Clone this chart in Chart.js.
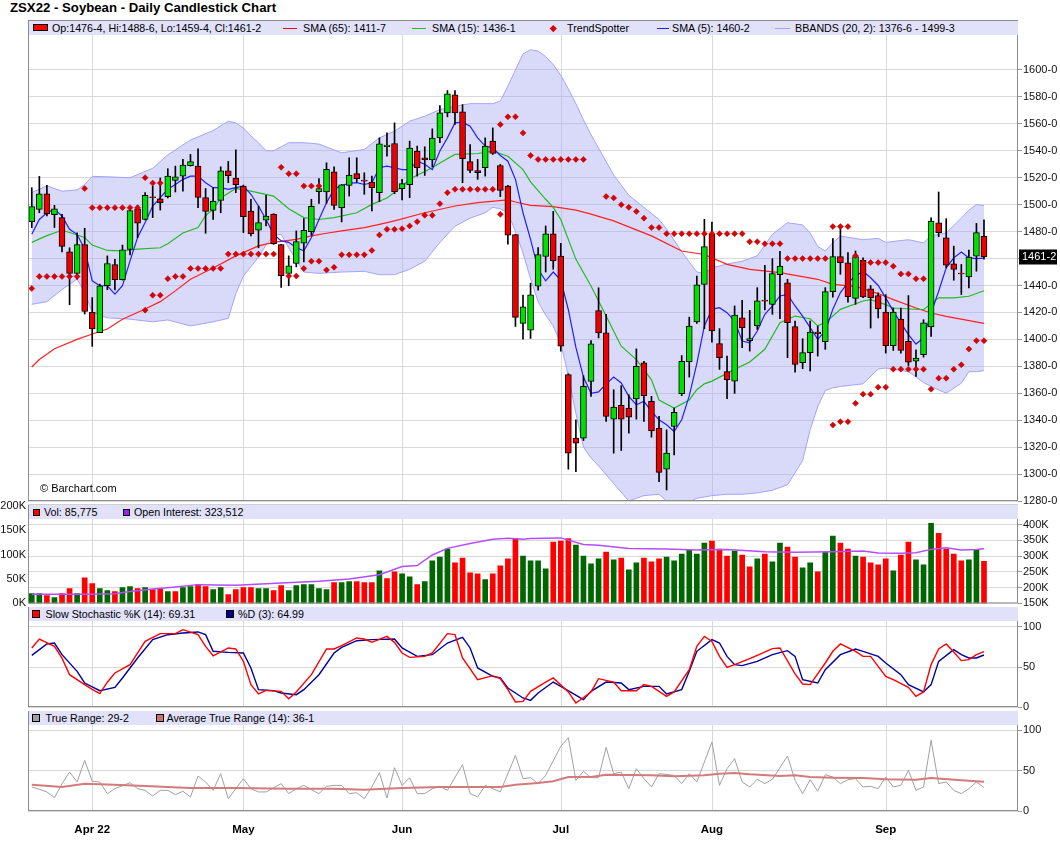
<!DOCTYPE html>
<html>
<head>
<meta charset="utf-8">
<title>ZSX22 - Soybean - Daily Candlestick Chart</title>
<script src="https://cdn.jsdelivr.net/npm/chart.js@4.4.1/dist/chart.umd.min.js"></script>
<style>
  body { margin: 0; background: #fff; }
  #wrap { position: relative; width: 1060px; height: 851px; overflow: hidden; font-family: "Liberation Sans", Arial, sans-serif; color: #000; }
  #wrap canvas { position: absolute; left: 0; }
  .title { position: absolute; left: 10px; top: 0; font-size: 13.2px; font-weight: bold; line-height: 16px; }
  .leg { position: absolute; left: 29px; width: 989px; height: 14px; background: #e1e1f9; font-size: 10.7px; line-height: 14px; white-space: nowrap; z-index: 2; }
  .leg span { position: absolute; top: 0; }
  .leg i { position: absolute; display: block; }
  .wm { position: absolute; left: 40px; top: 481px; font-size: 11px; line-height: 14px; z-index: 2; }
</style>
</head>
<body>
<div id="wrap">
  <div class="title">ZSX22 - Soybean - Daily Candlestick Chart</div>

  <div class="leg" style="top:21px">
    <i style="left:4px;top:3px;width:13px;height:5px;background:#f00;border:1px solid #000"></i>
    <span style="left:23px">Op:1476-4, Hi:1488-6, Lo:1459-4, Cl:1461-2</span>
    <i style="left:254px;top:7px;width:14px;height:1px;background:#f00"></i>
    <span style="left:274px">SMA (65): 1411-7</span>
    <i style="left:383px;top:7px;width:14px;height:1px;background:#2b2"></i>
    <span style="left:403px">SMA (15): 1436-1</span>
    <i style="left:522px;top:4.5px;width:4.5px;height:4.5px;background:#d00;transform:rotate(45deg)"></i>
    <span style="left:538px">TrendSpotter</span>
    <i style="left:628px;top:7px;width:12px;height:1px;background:#22f"></i>
    <span style="left:643px">SMA (5): 1460-2</span>
    <i style="left:746px;top:7px;width:15px;height:1px;background:#a3a3ff"></i>
    <span style="left:766px">BBANDS (20, 2): 1376-6 - 1499-3</span>
  </div>

  <div class="leg" style="top:505px">
    <i style="left:4px;top:3.5px;width:5px;height:5px;background:#f00;border:1px solid #000"></i>
    <span style="left:15px">Vol: 85,775</span>
    <i style="left:94px;top:3.5px;width:5px;height:5px;background:#a020f0;border:1px solid #000"></i>
    <span style="left:105px">Open Interest: 323,512</span>
  </div>

  <div class="leg" style="top:607px">
    <i style="left:3px;top:3px;width:6px;height:6px;background:#f00;border:1px solid #000"></i>
    <span style="left:16.5px">Slow Stochastic %K (14): 69.31</span>
    <i style="left:196.5px;top:3px;width:6px;height:6px;background:#00008b;border:1px solid #000"></i>
    <span style="left:209px">%D (3): 64.99</span>
  </div>

  <div class="leg" style="top:711px">
    <i style="left:3px;top:3px;width:6px;height:6px;background:#a0a0a0;border:1px solid #000"></i>
    <span style="left:16.5px">True Range: 29-2</span>
    <i style="left:127px;top:3px;width:6px;height:6px;background:#cc7070;border:1px solid #000"></i>
    <span style="left:137.5px">Average True Range (14): 36-1</span>
  </div>

  <div class="wm">&copy; Barchart.com</div>

  <canvas id="cPrice"></canvas>
  <canvas id="cVol"></canvas>
  <canvas id="cStoch"></canvas>
  <canvas id="cTr"></canvas>
</div>

<script>
// trading days shown on the axis (last four are empty future slots)
const mar = [22, 23, 24, 25, 28, 29, 30, 31];
const apr = [1, 4, 5, 6, 7, 8, 11, 12, 13, 14, 18, 19, 20, 21, 22, 25, 26, 27, 28, 29];
const may = [2, 3, 4, 5, 6, 9, 10, 11, 12, 13, 16, 17, 18, 19, 20, 23, 24, 25, 26, 27, 31];
const jun = [1, 2, 3, 6, 7, 8, 9, 10, 13, 14, 15, 16, 17, 21, 22, 23, 24, 27, 28, 29, 30];
const jul = [1, 5, 6, 7, 8, 11, 12, 13, 14, 15, 18, 19, 20, 21, 22, 25, 26, 27, 28, 29];
const aug = [1, 2, 3, 4, 5, 8, 9, 10, 11, 12, 15, 16, 17, 18, 19, 22, 23, 24, 25, 26, 29, 30, 31];
const sep = [1, 2, 6, 7, 8, 9, 12, 13, 14, 15, 16, 19, 20, 21, 22, 23, 26, 27];
const monthNames = ['Apr 22', 'May', 'Jun', 'Jul', 'Aug', 'Sep'];

const opens = [
  1487.4,1496.5,1508,1492.6,1490.4,1465,1449,1470.4,1420,1405,
  1439.8,1455.6,1444.4,1466.7,1497,1489,1505.9,1504.4,1506,1518,
  1521.2,1529,1528.6,1505.2,1495.8,1503.2,1525.2,1519.8,1513.8,1495.3,
  1481,1488.4,1493,1470.4,1448.9,1456.3,1471.4,1480,1509.6,1509.4,
  1524.4,1497.8,1514.3,1523,1518.2,1516.8,1508.9,1543,1545.4,1511.9,
  1514.8,1539.8,1534.8,1533.3,1549.6,1568.1,1581.5,1568.9,1531.9,1525.4,
  1527.4,1547.2,1529.1,1513.8,1477.8,1411.9,1406.9,1439.5,1461.5,1478.3,
  1461.9,1373.8,1326.7,1326.7,1368.8,1421.4,1404.8,1340.8,1351,1349,
  1355.7,1382.5,1354,1334.1,1303.6,1335.3,1359.6,1383.2,1413,1440.8,
  1478,1396.8,1376,1369,1416,1399,1409.9,1429.1,1426,1448,
  1442,1409.4,1382.7,1390.1,1405.4,1398.3,1435.4,1461.4,1456.9,1430.4,
  1458.6,1437.5,1432.5,1420.3,1395.3,1415.1,1398.5,1383.9,1388.6,1409.2,
  1486.6,1475.4,1456.1,1449.3,1446.4,1461.8,1476.5
];
const highs = [
  1512.6,1521,1514.3,1499.5,1492.8,1468,1479,1482.5,1431,1441,
  1462,1459.5,1470,1496,1499.5,1509,1513.8,1519.8,1526.7,1528.6,
  1533.6,1537.3,1541.5,1512,1512.6,1528.1,1532.1,1540.7,1514.5,1504,
  1499,1506.9,1493.3,1470.6,1462,1480.5,1489.6,1504,1519.3,1531.1,
  1528,1515,1534.8,1534.8,1523.7,1521.2,1549.6,1553.3,1560.7,1518.8,
  1547.2,1543.5,1543,1556.3,1573.6,1584.7,1584.7,1574.3,1544.7,1533.6,
  1549.6,1557,1529.9,1514.3,1477.8,1432.8,1441.7,1468.1,1484.2,1495,
  1471.3,1374.5,1340.3,1373,1399.1,1438.3,1418.5,1362.6,1365.6,1358.9,
  1392.9,1383.7,1357.7,1342.8,1332.9,1349,1388,1416.5,1447,1489.1,
  1487,1408,1387.6,1424.8,1429,1421.5,1438.4,1455,1459.9,1465.3,
  1444.6,1413.6,1400.5,1413.6,1409.9,1438.4,1474.8,1484.7,1464.4,1465.6,
  1460.5,1440,1434.5,1433.2,1423.3,1423.3,1432.5,1392.3,1414.6,1490.3,
  1509.4,1489.6,1469.2,1455.6,1466.3,1486.1,1488.75
];
const lows = [
  1483,1494,1491.6,1483,1465,1425.7,1444.7,1418.8,1394.8,1405,
  1436.8,1436.8,1444,1462.7,1475.6,1488.6,1490.4,1496,1505,1509.4,
  1510,1528.6,1497.8,1478.8,1489,1494,1516.3,1508.9,1479.3,1476.8,
  1468,1484.2,1470.5,1438.5,1439.8,1453.8,1457.5,1477.3,1501,1501,
  1496.5,1487.2,1506.4,1516.8,1507.7,1495.3,1502.2,1536,1508.1,1503.5,
  1505.2,1521.2,1521.7,1528.1,1546,1565.2,1559.5,1516.3,1523.7,1518.8,
  1521.2,1537.3,1506,1470.6,1409.6,1400.2,1400.7,1436.5,1450,1452,
  1391.2,1303.6,1301.8,1324.9,1357.7,1401.1,1339,1315.5,1317.5,1330.4,
  1340.8,1339,1327.4,1294.4,1288.2,1314.2,1358.2,1372,1411.8,1408,
  1398,1377.7,1356,1359.9,1393.8,1391.3,1407.4,1421.8,1418.6,1415.3,
  1386.4,1375.7,1378.2,1376.5,1387.6,1392.6,1431.4,1448.3,1427.7,1426,
  1431,1408.4,1415.9,1389.8,1391.8,1389.8,1380.6,1372.5,1386.8,1402.2,
  1476.2,1453.1,1443.9,1433.3,1438.2,1450.6,1459.5
];
const closes = [
  1498.5,1508,1493.3,1497,1469,1449,1470.4,1420.7,1407.7,1439.8,
  1456.3,1444.4,1466.4,1495.6,1486.2,1507,1505.2,1501.5,1521.2,1520.7,
  1529.4,1531.9,1505.4,1495,1502.7,1525.2,1521.5,1514.8,1491.1,1478.5,
  1486.7,1491.6,1471,1447.2,1454.6,1472.6,1481,1498.8,1511.9,1526.2,
  1499.5,1514.8,1522,1519.3,1517.5,1512.6,1545.2,1544.2,1509.6,1515.6,
  1542,1527.4,1533.3,1549.4,1568.1,1582.2,1568.1,1534.1,1525.4,1523.7,
  1543.5,1538,1510.6,1477.3,1416.3,1424.2,1433,1463,1478.3,1458.3,
  1394.9,1315.5,1323,1365.1,1396.6,1404.8,1342.8,1349.7,1340.8,1342.3,
  1380,1358.2,1332.1,1301.3,1315.5,1345.8,1383.7,1409.8,1440.5,1468.8,
  1406.2,1386.4,1370,1418,1408.7,1400.5,1428.7,1428.4,1448.8,1454.5,
  1412.4,1381.4,1390.1,1405.4,1404.2,1435.4,1461.4,1456.9,1431.7,1461.4,
  1431.5,1431,1422.6,1395.3,1420.3,1391.8,1383.1,1386.1,1412.2,1487.8,
  1479.2,1455.1,1451.9,1448.6,1461,1479.2,1461.25
];

// SMA (5), one value per candle
const sma5 = [
  1478,1489,1494,1496.5,1491.6,1481.7,1478,1467,1443.5,1439.8,
  1439.8,1433.6,1439.8,1458.3,1475.6,1486.7,1499,1505.2,1511.4,1515,
  1518.8,1521.2,1521.2,1516.3,1512.6,1512.6,1511.4,1512.6,1513.8,1507.7,
  1499,1489,1478,1473.1,1472,1468,1465.7,1475.6,1489,1501.5,
  1511.4,1514.3,1515.8,1516.3,1515,1516.3,1527.4,1528.6,1527.4,1526,
  1526,1532.3,1530,1526,1539.8,1549.6,1560.7,1561.2,1558.3,1549.6,
  1543.5,1542.2,1536.5,1532.3,1518.8,1494,1474.3,1452,1443.5,1450,
  1444,1422,1394,1372,1360,1361,1367,1372,1367.6,1357.7,
  1351.5,1354,1346.5,1340.3,1336.6,1331.6,1340.3,1358,1382,1410,
  1422.3,1423.5,1419.8,1413.6,1398.8,1397.5,1406.2,1418.6,1424.8,1432.2,
  1433.4,1424.8,1417.3,1408.7,1400,1406.2,1422.3,1434.7,1442.1,1447,
  1450.6,1445.7,1440,1430.8,1420.8,1412.2,1403.5,1396.5,1401,1419.6,
  1435.7,1453.1,1460.5,1464.8,1460.5,1460,1460.25
];

// smoother lines, read at [candle index, value]
const sma65 = [[0,1379.5],[1,1385],[3,1393],[6,1400],[8,1404],[10,1407.7],[12,1415],[15,1422.5],[17,1428],[19,1436],
  [21,1444.7],[24,1453],[27,1462],[30,1469.4],[32,1472],[35,1474.3],[37,1476.8],[39,1478.8],[41,1480.5],[44,1483],
  [46,1485.4],[48,1488],[52,1494],[56,1499],[59,1501.5],[63,1503.5],[64,1502],[66,1499.5],[69,1498.5],[72,1496],
  [74,1493],[77,1488],[82,1476.8],[86,1465.6],[89,1463],[92,1455.7],[95,1452],[99,1449.5],[104,1444.6],[106,1440.8],
  [109,1439.3],[112,1434],[114,1429.5],[117,1423.3],[119,1419.6],[121,1417.1],[126,1411.9]];
const sma15 = [[0,1472],[2,1477],[4,1481],[5,1479.3],[7,1475.6],[8,1470],[10,1466],[12,1465.7],[14,1467],[17,1468],
  [18,1471],[20,1479],[22,1483],[23,1492],[24,1496.5],[25,1505],[27,1512],[29,1510],[32,1506.4],[34,1497],
  [36,1490.4],[38,1489],[40,1490.4],[43,1494],[45,1500.2],[47,1505],[49,1513.5],[50,1519],[53,1527.4],[54,1531],
  [56,1537.3],[59,1538],[61,1539.8],[63,1536],[65,1526],[66,1517],[68,1504],[69,1498],[70,1489],[72,1459.4],
  [74,1439.6],[76,1417.3],[78,1394.9],[80,1385],[82,1370],[83,1355],[85,1349],[87,1355],[88,1362.6],[89,1367],
  [90,1369],[93,1377.7],[95,1383.2],[97,1392.6],[99,1412.4],[101,1417.3],[103,1415.3],[104,1410],[105,1412.4],[107,1422.3],
  [110,1428.5],[111,1429.5],[113,1425.8],[114,1423.3],[118,1422],[120,1430.8],[122,1430.8],[124,1432],[126,1436.1]];

// Bollinger bands (20, 2)
const bbIdx = [0,2,4,6,7,8,10,13,16,18,21,24,26,27,28,29,30,31,32,33,34,36,38,41,44,46,48,50,52,54,
  56,58,60,61,62,63,64,65,66,67,68,69,70,71,72,73,74,75,77,79,81,83,84,86,88,89,90,92,94,96,
  98,100,102,103,104,105,106,107,110,112,113,116,118,119,121,123,124,125,126];
const bbUpper = [1509,1514,1510,1511,1515,1521,1520.7,1520,1527,1537,1548,1555,1562,1560.7,1557,1551,1546,1540,1540,1543,
  1546,1546,1545,1538.5,1541,1549.6,1554.6,1562,1565.7,1570.6,1573,1575,1575,1575,1577,1588,1600,1612,1615,1614,
  1610,1604,1596,1586,1575,1563,1552,1542,1522,1507,1498,1489,1482,1465,1450,1449,1453,1456,1458,1462,
  1478,1486.6,1485,1479,1469,1465.6,1471.8,1476.7,1474,1475,1472,1474,1471.7,1477,1479,1490,1496,1500,1499.4];
const bbLower = [1426,1428,1437,1444.7,1435,1420,1416,1415,1413,1414.4,1410,1413,1415.6,1434,1447,1454,1461,1470,1477,1478,
  1468,1450,1449,1450,1450.5,1448,1448,1452,1458,1472,1484,1490,1494,1498,1497,1494,1480,1464,1445,1428,
  1418,1410,1397,1373,1345,1320,1312,1306,1293,1280,1284,1285,1280,1277,1282,1283,1284,1285,1285,1286,
  1288,1292,1310,1333,1350,1362,1364,1365,1367,1378,1378.7,1376,1368,1365,1360,1367.5,1376,1376,1376.75];

// TrendSpotter dots, runs of [first index, last index, value]
const trendRuns = [[0,0,1437.8],[1,6,1446.7],[7,7,1512],[8,14,1497.8],[15,15,1520],[15,15,1421.7],[16,17,1516],[16,17,1432.8],
  [18,18,1445],[19,20,1446.7],[21,25,1452.7],[26,32,1463.3],[33,33,1527.7],[34,35,1523],[34,35,1447],[36,38,1513.8],
  [36,36,1452.7],[37,38,1458],[39,39,1451.5],[40,40,1453.5],[41,44,1462.8],[45,45,1466],[46,46,1477.5],[47,48,1481.7],
  [49,49,1482.2],[50,50,1484.2],[51,51,1487.4],[52,53,1492.1],[54,54,1500.7],[55,55,1508.9],[56,61,1511.4],[62,62,1559.5],
  [62,62,1492.8],[63,64,1565.2],[65,65,1553.3],[66,66,1536.5],[67,73,1533.6],[76,76,1506],[77,77,1505],[78,78,1500],
  [79,79,1498],[80,80,1495],[81,81,1490],[82,83,1483],[84,94,1478.5],[95,96,1472.5],[97,99,1471],[100,105,1460],
  [106,108,1483.7],[106,106,1336.4],[107,108,1338.9],[109,109,1462],[109,109,1352.5],[110,113,1457],[110,111,1359.3],
  [112,113,1364.5],[114,114,1454.3],[114,118,1377.9],[115,116,1448.6],[117,118,1445],[119,119,1363],[120,121,1371.2],
  [122,122,1377.9],[123,123,1381.1],[124,124,1392.8],[125,126,1399]];

// volume and open interest, thousands
const volume = [
  20.2,20.2,16.2,12.1,20.2,30.3,20.2,52.5,40.4,30.3,
  26.3,24.2,32.3,34.3,30.3,32.3,28.3,29,24.2,24.2,
  32.3,34.3,38.4,34.3,28.3,32.3,18.2,28.3,32.3,32.3,
  30.3,30.3,26.3,36.4,26.3,36.4,38.4,38.4,30.3,28.3,
  42.4,42.4,44.4,44.4,42.4,42.4,66.7,50.5,64.6,60.6,
  54.5,38.4,44.4,86.9,94.9,111,82.8,92.9,62.6,60.6,
  48.5,60.6,76.8,90.9,132.7,97,86.9,86.9,70.7,125.3,
  127.3,132.7,119.2,97,80.8,90.9,105,88.9,92.9,68.7,
  82.8,92.9,84.8,90.9,94.9,86.9,101,109.1,101,123.2,
  127.3,111.1,97,107.1,99,74.7,90.9,101,84.8,123.2,
  115.2,94.9,72.7,82.8,64.6,105,137.4,123.2,111.1,97,
  94.9,82.8,78.8,90.9,66.7,99,125.3,88.9,78.8,163.6,
  143.4,111.1,101,86.9,88.9,109.1,85.775
];
const openInterest = [[0,179],[7,179],[11,181],[13,187.7],[16,196],[19,202],[22,209.6],[27,207.5],[33,214.9],[38,220],
  [42,227.4],[46,241],[49,267],[51,270],[53,303.8],[55,324.7],[58,340.4],[61,354],[63,357],[65,354],
  [66,356],[70,358],[73,337],[75,335],[79,324.7],[84,322.6],[88,319.5],[92,321.5],[97,314.2],[101,312.1],
  [106,314.2],[110,316.3],[112,310],[115,309],[117,311],[119,321.5],[121,326.8],[123,319.5],[125,321.5],[126,323.512]];

// slow stochastic
const stochK = [[0,73.8],[1,85],[3,75.8],[4,61],[5,40.4],[7,28],[8,22],[9,16.7],[10,31],[11,42.5],
  [13,53],[15,82],[17,91.7],[19,91.7],[20,96.7],[22,90.4],[23,75.8],[24,64],[26,73.8],[27,72.5],
  [28,57],[29,28],[30,16.3],[31,20.8],[33,19.6],[34,10.4],[35,18.8],[37,40.4],[39,72.5],[40,72.5],
  [41,76.7],[43,86.3],[44,85],[45,80.8],[47,88.3],[48,80.8],[49,67.5],[50,62],[52,63.3],[53,67.5],
  [55,91.7],[56,90.4],[57,61.3],[59,34.2],[61,39.2],[62,35.4],[63,21.7],[64,6.3],[65,7],[66,19.6],
  [68,31.2],[69,36.3],[71,18.8],[72,5],[74,18.8],[75,35.4],[77,31.2],[78,20.4],[80,20.4],[81,28],
  [82,25.8],[84,13.3],[85,18.8],[87,46.7],[88,75.8],[89,88.3],[90,82],[91,63.3],[92,49.6],[93,53],
  [95,60.4],[96,64.6],[98,73],[99,73.8],[101,41.3],[102,28.8],[103,28],[105,55],[106,69.6],[107,78.8],
  [109,69.6],[110,63.3],[111,63.3],[113,38.3],[114,34.2],[116,24.6],[117,13.3],[118,18.8],[119,53],[120,72.5],
  [121,78.8],[122,68.8],[123,58],[124,59.2],[125,65.4],[126,69.31]];
const stochD = [[0,64.6],[2,78.8],[3,80],[4,65.4],[6,44.6],[7,30],[9,20.4],[11,24.6],[12,36.3],[14,61.3],
  [16,84.2],[18,90.4],[20,92.5],[22,93.8],[23,90.4],[24,69.6],[26,68.3],[28,67.5],[29,48.8],[30,21.7],
  [32,20.4],[33,17.5],[35,15.4],[36,21.7],[38,40.4],[40,67.5],[41,74.6],[43,82.9],[45,84.2],[48,85],
  [49,73.8],[51,63.3],[53,65.4],[55,80],[57,87.1],[58,73.8],[59,48.8],[61,38.3],[62,36.3],[63,23.8],
  [65,11.3],[66,8.3],[67,17.5],[69,31.2],[70,25.8],[73,9.2],[74,19.6],[76,31.2],[78,30],[79,21.7],
  [81,25.8],[83,25.8],[84,16.3],[86,21.7],[87,44.6],[88,69.6],[90,84.2],[91,80],[92,63.3],[93,53],
  [94,51.7],[96,57],[98,65.4],[100,70.4],[101,63.3],[102,34.2],[104,30],[105,46.7],[107,65.4],[109,72.5],
  [110,69.6],[112,63.3],[113,55],[115,40.4],[116,27.9],[118,18.8],[119,28],[120,57],[122,71.7],[123,65.4],
  [124,61.3],[125,61.3],[126,64.99]];

// true range and its 14-day average
const trueRange = [[0,29.8],[1,26.9],[2,23.6],[3,16.5],[4,33.9],[5,48.3],[6,36],[7,62.8],[8,36.8],[9,36],
  [10,21.5],[11,27.7],[13,35.1],[14,27.7],[15,25.6],[16,18.6],[17,25.6],[18,25.6],[19,20.2],[20,24.4],
  [21,17.4],[22,43.4],[23,36],[24,25.6],[25,46.3],[26,15.3],[28,40.1],[29,27.7],[30,23.6],[31,23.6],
  [33,33.9],[34,21.5],[35,27.7],[36,31.8],[37,26.4],[38,21.5],[39,30.6],[40,31.8],[41,31.8],[42,21.5],
  [43,22.7],[44,15.3],[45,29.8],[46,47.5],[47,16.1],[48,53.7],[49,31.8],[50,41.3],[51,21.5],[52,21.5],
  [53,27.7],[54,30.6],[55,25.6],[57,57.4],[58,21.5],[59,17.4],[60,31.8],[62,23.6],[64,69],[65,40.1],
  [66,41.3],[67,33.9],[68,44.2],[70,80.2],[71,90.9],[72,38],[73,49.2],[74,41.3],[75,41.3],[76,78.9],
  [77,46.3],[78,48.3],[79,27.7],[80,52.5],[81,40.1],[82,29.8],[83,46.3],[85,44.2],[86,33.9],[87,46.3],
  [88,36],[90,85.5],[91,31.8],[92,52.5],[93,64.9],[94,36],[95,29.8],[96,39.3],[97,33.9],[98,39.3],
  [100,68.2],[101,38],[102,21.5],[103,38.8],[104,24.4],[105,45],[106,42.1],[107,33.9],[108,38.8],[109,40.1],
  [110,29.8],[111,30.6],[112,27.7],[113,42.1],[114,29.8],[115,31.8],[116,50.4],[117,25.6],[118,29.8],[119,87.6],
  [120,33.9],[121,36],[122,25.6],[123,21.5],[124,27.7],[125,36],[126,29.25]];
const avgTrueRange = [[0,32.6],[4,29.8],[7,33.9],[10,33],[15,31],[21,28.5],[27,28.5],[34,27.7],[40,27.7],[44,26.4],
  [49,28.5],[54,29.8],[58,29.8],[62,29.8],[64,32.6],[67,34.7],[69,36.8],[71,42.1],[74,42.1],[76,45],
  [82,44.2],[85,43],[89,44.2],[91,46.3],[93,47.1],[95,45.5],[99,43.4],[101,44.2],[103,42.1],[106,41.3],
  [110,40.9],[113,39.3],[117,38.8],[119,40.9],[123,38],[126,36.125]];

// axis tick values
const priceTicks = [1280,1300,1320,1340,1360,1380,1400,1420,1440,1460,1480,1500,1520,1540,1560,1580,1600];
const volTicks = [0, 50, 100, 150, 200];
const oiTicks = [150, 200, 250, 300, 350, 400];
const pctTicks = [0, 50, 100];

// ---------- build categories ----------
const labels = [];
const monthStart = [];
[[3, mar], [4, apr], [5, may], [6, jun], [7, jul], [8, aug], [9, sep]].forEach(([m, list], k) => {
  list.forEach((d, j) => {
    if (j === 0 && k > 0) monthStart.push(labels.length);
    labels.push('2022-' + String(m).padStart(2, '0') + '-' + String(d).padStart(2, '0'));
  });
});

const pts = arr => arr.map(([i, v]) => ({ x: labels[i], y: v }));
const trendPts = [];
trendRuns.forEach(([a, b, v]) => { for (let i = a; i <= b; i++) trendPts.push({ x: labels[i], y: v }); });
const bbUpPts = bbIdx.map((i, k) => ({ x: labels[i], y: bbUpper[k] }));
const bbLoPts = bbIdx.map((i, k) => ({ x: labels[i], y: bbLower[k] }));

const eighths = v => { const w = Math.floor(v); return w + '-' + Math.round((v - w) * 8); };

const GREEN = '#00e000', RED = '#ee0000';
const bodies = opens.map((o, i) => [o, closes[i]]);
const wicks = lows.map((l, i) => [l, highs[i]]);
const bodyColors = opens.map((o, i) => closes[i] >= o ? GREEN : RED);
const volColors = closes.map((c, i) => (i === 0 || c >= closes[i - 1]) ? '#006600' : '#ff0000');

// ---------- shared options ----------
Chart.defaults.font.family = '"Liberation Sans", Arial, sans-serif';
Chart.defaults.font.size = 11;
Chart.defaults.color = '#111';
Chart.defaults.animation = false;
Chart.defaults.plugins.legend.display = false;
Chart.defaults.plugins.tooltip.enabled = false;

const GRID = '#d9d9d9';
const setTicks = vals => axis => { axis.ticks = vals.map(v => ({ value: v })); };
const rightAxis = (min, max, vals, fmt) => ({
  position: 'right', min: min, max: max,
  afterBuildTicks: setTicks(vals),
  afterFit: s => { s.width = 42; },
  border: { display: false },
  grid: { color: GRID, tickLength: 4, tickColor: '#999' },
  ticks: { padding: 1, color: '#111', callback: fmt }
});
const hiddenX = { type: 'category', offset: true, display: false, grid: { offset: false } };

const frame = {
  id: 'frame',
  afterDraw(c) {
    const a = c.chartArea, ctx = c.ctx;
    ctx.save();
    ctx.strokeStyle = '#8c8c8c';
    ctx.lineWidth = 1;
    ctx.strokeRect(a.left + 0.5, a.top + 0.5, a.width - 1, a.height - 1);
    ctx.restore();
  }
};
const monthLines = {
  id: 'monthLines',
  beforeDatasetsDraw(c) {
    const a = c.chartArea, ctx = c.ctx, x = c.scales.x;
    ctx.save();
    ctx.strokeStyle = GRID;
    ctx.lineWidth = 1;
    monthStart.forEach(i => {
      const px = Math.round(x.getPixelForValue(i)) + 0.5;
      ctx.beginPath(); ctx.moveTo(px, a.top); ctx.lineTo(px, a.bottom); ctx.stroke();
    });
    ctx.restore();
  }
};
const lastTag = {
  id: 'lastTag',
  afterDraw(c) {
    const last = closes[closes.length - 1];
    const y = c.scales.y.getPixelForValue(last), ctx = c.ctx, r = c.chartArea.right;
    ctx.save();
    ctx.fillStyle = '#000';
    ctx.fillRect(r + 1, Math.round(y) - 7.5, 38, 15);
    ctx.fillStyle = '#fff';
    ctx.font = '11px "Liberation Sans", Arial, sans-serif';
    ctx.textBaseline = 'middle';
    ctx.fillText(eighths(last), r + 4, y + 0.5);
    ctx.restore();
  }
};

function place(id, top, height) {
  const cv = document.getElementById(id);
  cv.width = 1060; cv.height = height;
  cv.style.top = top + 'px';
  cv.style.width = '1060px'; cv.style.height = height + 'px';
  return cv;
}
const base = { responsive: false, maintainAspectRatio: false };

// ---------- price panel ----------
new Chart(place('cPrice', 12, 497), {
  type: 'bar',
  data: {
    labels: labels,
    datasets: [
      { type: 'line', data: bbUpPts, borderColor: '#a3a3ff', borderWidth: 1, pointRadius: 0, fill: false, order: 10 },
      { type: 'line', data: bbLoPts, borderColor: '#a3a3ff', borderWidth: 1, pointRadius: 0,
        fill: '-1', backgroundColor: 'rgba(170,170,245,0.45)', order: 10 },
      { type: 'line', data: pts(sma65), borderColor: '#ff2020', borderWidth: 1.2, pointRadius: 0, order: 9 },
      { type: 'line', data: pts(sma15), borderColor: '#22bb22', borderWidth: 1.2, pointRadius: 0, order: 8 },
      { type: 'line', data: sma5, borderColor: '#2020ff', borderWidth: 1.2, pointRadius: 0, order: 7 },
      { type: 'bar', data: wicks, backgroundColor: '#000', barThickness: 1, grouped: false, order: 5 },
      { type: 'bar', data: bodies, backgroundColor: bodyColors, borderColor: '#000', borderWidth: 1,
        borderSkipped: false, barThickness: 6, grouped: false, order: 4 },
      { type: 'line', data: trendPts, showLine: false, pointStyle: 'rectRot', pointRadius: 3,
        pointBackgroundColor: '#dd0000', pointBorderColor: '#aa0000', pointBorderWidth: 0.5, order: 3 }
    ]
  },
  options: Object.assign({}, base, {
    layout: { padding: { left: 28, right: 0, top: 8, bottom: 8 }, autoPadding: false },
    scales: {
      x: hiddenX,
      y: rightAxis(1280, 1637.1, priceTicks, v => eighths(v))
    }
  }),
  plugins: [monthLines, frame, lastTag]
});

// ---------- volume + open interest ----------
new Chart(place('cVol', 496, 116), {
  type: 'bar',
  data: {
    labels: labels,
    datasets: [
      { type: 'line', data: pts(openInterest), yAxisID: 'yoi', borderColor: '#b44dff', borderWidth: 1.5, pointRadius: 0, order: 1 },
      { type: 'bar', data: volume, yAxisID: 'yv', backgroundColor: volColors, barThickness: 5, order: 2 }
    ]
  },
  options: Object.assign({}, base, {
    layout: { padding: { left: 0, right: 0, top: 8, bottom: 8 }, autoPadding: false },
    scales: {
      x: hiddenX,
      yv: {
        position: 'left', min: 0, max: 202,
        afterBuildTicks: setTicks(volTicks),
        afterFit: s => { s.width = 28; },
        border: { display: false },
        grid: { display: false, drawTicks: false, tickLength: 0 },
        ticks: { padding: 2, color: '#111', callback: v => v + 'K' }
      },
      yoi: rightAxis(150, 463.7, oiTicks, v => v + 'K')
    }
  }),
  plugins: [monthLines, frame]
});

// ---------- slow stochastic ----------
new Chart(place('cStoch', 599, 116), {
  type: 'line',
  data: {
    labels: labels,
    datasets: [
      { data: pts(stochK), borderColor: '#ff0000', borderWidth: 1.4, pointRadius: 0 },
      { data: pts(stochD), borderColor: '#000099', borderWidth: 1.4, pointRadius: 0 }
    ]
  },
  options: Object.assign({}, base, {
    layout: { padding: { left: 28, right: 0, top: 8, bottom: 8 }, autoPadding: false },
    scales: {
      x: hiddenX,
      y: rightAxis(0, 125, pctTicks, v => v)
    }
  }),
  plugins: [monthLines, frame]
});

// ---------- true range ----------
new Chart(place('cTr', 703, 132), {
  type: 'line',
  data: {
    labels: labels,
    datasets: [
      { data: pts(avgTrueRange), borderColor: '#d47a7a', borderWidth: 2, pointRadius: 0 },
      { data: pts(trueRange), borderColor: '#a0a0a0', borderWidth: 1, pointRadius: 0 }
    ]
  },
  options: Object.assign({}, base, {
    layout: { padding: { left: 28, right: 0, top: 8, bottom: 0 }, autoPadding: false },
    scales: {
      x: {
        type: 'category', offset: true,
        grid: { display: false, offset: false },
        border: { display: false },
        afterFit: s => { s.height = 24; },
        ticks: {
          autoSkip: false, maxRotation: 0, minRotation: 0, padding: 4, color: '#000',
          font: { size: 11.5, weight: 'bold' },
          callback: (v, i) => { const k = monthStart.indexOf(i); return k < 0 ? '' : monthNames[k]; }
        }
      },
      y: rightAxis(0, 124, pctTicks, v => v)
    }
  }),
  plugins: [monthLines, frame]
});
</script>
</body>
</html>
